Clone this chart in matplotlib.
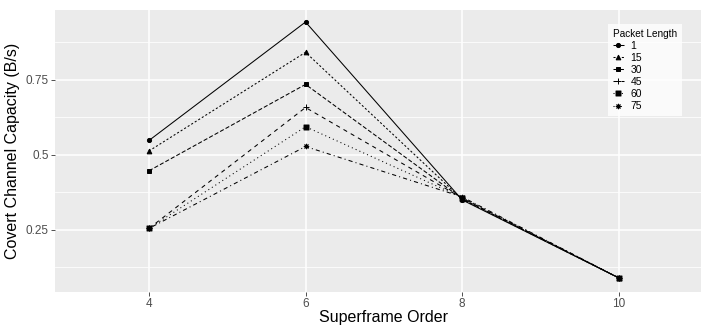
import matplotlib.pyplot as plt
from matplotlib.ticker import FixedLocator

plt.rcParams['font.family'] = ['Liberation Sans', 'DejaVu Sans']

# superframe order on a discrete axis
orders = [4, 6, 8, 10]
packet_lengths = ['1', '15', '30', '45', '60', '75']

cap_1 = [0.548, 0.943, 0.350, 0.090]
cap_15 = [0.513, 0.842, 0.352, 0.090]
cap_30 = [0.447, 0.735, 0.354, 0.090]
cap_45 = [0.255, 0.658, 0.356, 0.090]
cap_60 = [0.255, 0.594, 0.358, 0.090]
cap_75 = [0.255, 0.528, 0.360, 0.090]
series = [cap_1, cap_15, cap_30, cap_45, cap_60, cap_75]

# ggplot-ish linetypes and shapes
linestyles = ['-', (0, (2, 2)), (0, (4, 2)), (0, (4, 4)), (0, (1, 3)), (0, (1, 3, 4, 3))]
markers = ['o', '^', 's', '+', r'$\boxtimes$', (8, 2, 0)]
msizes = [3.0, 3.4, 2.9, 4.0, 3.6, 3.8]

fig = plt.figure(figsize=(7.01, 3.27), dpi=100)
ax = fig.add_axes([55 / 701, 35 / 327, 657.7 / 701, 282 / 327])
ax.set_facecolor('#EBEBEB')
for s in ax.spines.values():
    s.set_visible(False)

pos = list(range(len(orders)))
for vals, lab, ls, mk, ms in zip(series, packet_lengths, linestyles, markers, msizes):
    ax.plot(pos, vals, color='black', lw=0.75, ls=ls, marker=mk, ms=ms,
            mew=0.7, label=lab, solid_capstyle='butt', dash_capstyle='butt')

ax.set_xlim(-0.6, 3.6)
ax.set_ylim(0.043, 0.983)
ax.set_xticks(pos)
ax.set_xticklabels([str(o) for o in orders])
ax.set_yticks([0.25, 0.5, 0.75])
ax.set_yticklabels(['0.25', '0.5', '0.75'])
ax.yaxis.set_minor_locator(FixedLocator([0.125, 0.375, 0.625, 0.875]))

ax.grid(True, which='major', color='white', lw=1.1)
ax.grid(True, which='minor', axis='y', color='white', lw=0.55)
ax.set_axisbelow(True)
ax.tick_params(which='major', length=3, width=0.6, color='#333333',
               labelcolor='#4D4D4D', labelsize=8.5, pad=1.5)
ax.tick_params(which='minor', length=0)

ax.set_xlabel('Superframe Order', fontsize=11.5, labelpad=0)
ax.set_ylabel('Covert Channel Capacity (B/s)', fontsize=11.5, labelpad=4)

leg = fig.legend(loc='upper left', bbox_to_anchor=(608 / 701, 1 - 24 / 327),
                 title='Packet Length', fontsize=7.5, title_fontsize=7.2,
                 frameon=True, fancybox=False, handlelength=1.1,
                 labelspacing=0.2, handletextpad=0.6, borderpad=0.45,
                 borderaxespad=0, alignment='left')
leg.get_frame().set_facecolor('white')
leg.get_frame().set_edgecolor('white')
leg.get_frame().set_linewidth(0)

fig.savefig('out.png', dpi=100)
